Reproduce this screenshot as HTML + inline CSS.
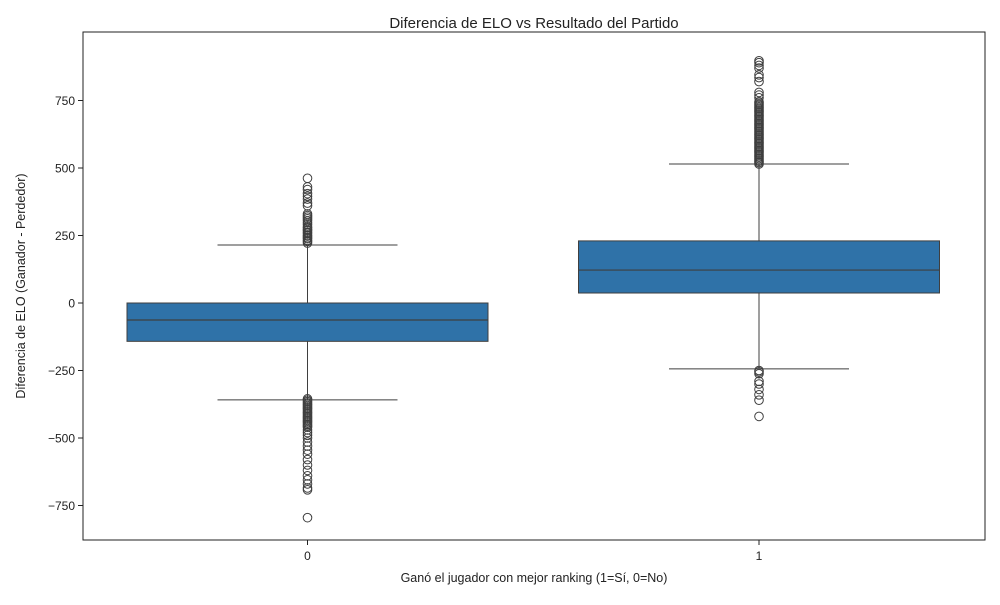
<!DOCTYPE html>
<html><head><meta charset="utf-8"><style>
body{margin:0;background:#fff;}
svg text{font-family:"Liberation Sans","DejaVu Sans",sans-serif;fill:#222;}
</style></head><body>
<svg id="chart" width="1000" height="600" xmlns="http://www.w3.org/2000/svg">
<rect width="1000" height="600" fill="#fff"/>
<text x="534" y="28" font-size="15" text-anchor="middle">Diferencia de ELO vs Resultado del Partido</text>
<text x="534" y="582" font-size="12.5" text-anchor="middle">Ganó el jugador con mejor ranking (1=Sí, 0=No)</text>
<text transform="translate(25,286) rotate(-90)" font-size="12.5" text-anchor="middle">Diferencia de ELO (Ganador - Perdedor)</text>
<g id="plot"></g>
<rect x="83" y="32" width="902" height="508" fill="none" stroke="#222" stroke-width="1"/>
</svg>
<script>
const categories = ["0", "1"];
const q1 = [-142, 37];
const median = [-63, 122];
const q3 = [0, 230];
const whiskerLow = [-359, -244];
const whiskerHigh = [215, 515];
const outliers0 = [222,228,232,238,242,248,252,258,262,268,272,278,282,290,298,305,312,318,324,330,360,370,385,395,405,420,430,462,
 -355,-360,-365,-370,-375,-380,-385,-390,-395,-400,-405,-410,-415,-420,-425,-430,-435,-440,-445,-450,-455,-460,-470,-480,-490,-500,-515,-530,-545,-560,-580,-600,-620,-640,-655,-670,-685,-692,-795];
const outliers1 = [515,520,525,530,535,540,545,550,555,560,565,570,575,580,585,590,595,600,605,610,615,620,625,630,635,640,645,650,655,660,665,670,675,680,685,690,695,700,705,710,715,720,725,730,735,740,745,760,770,780,820,835,845,870,880,890,897,
 -250,-255,-262,-290,-300,-320,-340,-360,-420];
const yTicks = [-750,-500,-250,0,250,500,750];
const outliers = [outliers0, outliers1];

const NS="http://www.w3.org/2000/svg";
const plot=document.getElementById('plot');
const svg=document.getElementById('chart');
function y(v){return 303 - v*0.27;}
function xc(i){return 307.5 + i*451.5;}
function mk(tag,attrs,parent){const e=document.createElementNS(NS,tag);for(const k in attrs)e.setAttribute(k,attrs[k]);(parent||plot).appendChild(e);return e;}

yTicks.forEach(t=>{
  const l=mk('line',{x1:78,x2:83,y1:y(t),y2:y(t),stroke:'#222'},svg);
  
  
  const tx=mk('text',{x:75,y:y(t)+4.5,'font-size':12,'text-anchor':'end'},svg);
  tx.textContent=(t<0?'\u2212'+(-t):t);
  
  
});
categories.forEach((c,i)=>{
  const cx=xc(i);
  const l=mk('line',{x1:cx,x2:cx,y1:540,y2:545,stroke:'#222'},svg);
  
  
  const tx=mk('text',{x:cx,y:560,'font-size':12,'text-anchor':'middle'},svg);
  tx.textContent=c;
  
  
  const g=mk('g',{});
  
  
  const w1=mk('line',{x1:cx,x2:cx,y1:y(q3[i]),y2:y(whiskerHigh[i]),stroke:'#3f3f3f'},g);
  
  
  const w2=mk('line',{x1:cx,x2:cx,y1:y(q1[i]),y2:y(whiskerLow[i]),stroke:'#3f3f3f'},g);
  
  
  [whiskerHigh[i],whiskerLow[i]].forEach(v=>{
    const cap=mk('line',{x1:cx-90,x2:cx+90,y1:y(v),y2:y(v),stroke:'#3f3f3f'},g);
    
    
  });
  const b=mk('rect',{x:cx-180.5,width:361,y:y(q3[i]),height:y(q1[i])-y(q3[i]),fill:'#2f72a8',stroke:'#3f3f3f'},g);
  
  
  const m=mk('line',{x1:cx-180.5,x2:cx+180.5,y1:y(median[i]),y2:y(median[i]),stroke:'#3f3f3f','stroke-width':1.2},g);
  
  
  outliers[i].forEach(v=>{
    const p=mk('circle',{cx:cx,cy:y(v),r:4.3,fill:'none',stroke:'#3f3f3f','stroke-width':1},g);
    
    
  });
});
</script>
</body></html>
